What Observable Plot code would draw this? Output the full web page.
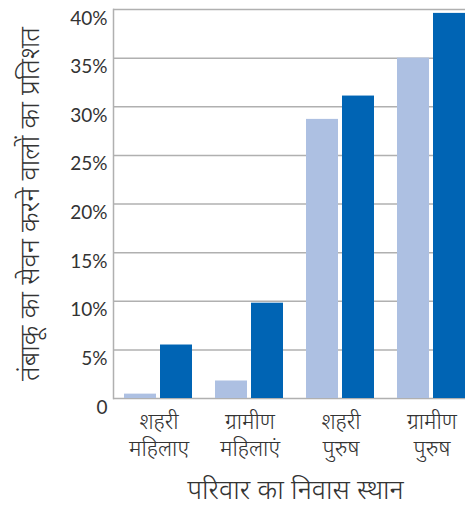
<!DOCTYPE html>
<html><head><meta charset="utf-8">
<script src="https://cdn.jsdelivr.net/npm/d3@7"></script>
<script src="https://cdn.jsdelivr.net/npm/@observablehq/plot@0.6"></script>
<style>
body{margin:0;background:#fff;}
#chart{width:465px;height:510px;overflow:hidden;position:relative;}
#chart svg{max-width:none !important;width:478px;height:510px;}
</style></head><body><div id="chart"></div>
<script>
const categories = ["शहरी महिलाए", "ग्रामीण महिलाएं", "शहरी पुरुष", "ग्रामीण पुरुष"];
const categoryLabels = ["शहरी\nमहिलाए", "ग्रामीण\nमहिलाएं", "शहरी\nपुरुष", "ग्रामीण\nपुरुष"];
const series = ["पहला", "दूसरा"];
const seriesColors = ["#adc0e2", "#0064b4"];
const valuesFirst = [0.45, 1.8, 28.7, 35.0];
const valuesSecond = [5.5, 9.8, 31.1, 39.6];
const yTicks = [0, 5, 10, 15, 20, 25, 30, 35, 40];
const yTitle = "तंबाकू का सेवन करने वालों का प्रतिशत";
const xTitle = "परिवार का निवास स्थान";

const data = categories.flatMap((c, i) => [
  {cat: c, s: series[0], v: valuesFirst[i]},
  {cat: c, s: series[1], v: valuesSecond[i]}
]);

const font = "Lato, 'Noto Sans', sans-serif";
const chart = Plot.plot({
  width: 478, height: 510,
  marginLeft: 112, marginRight: 0, marginTop: 9, marginBottom: 112,
  style: {fontFamily: font, color: "#333", background: "#fff"},
  fx: {domain: categories, padding: 0, label: null},
  x: {domain: series, paddingInner: 0.1, paddingOuter: 0.3, axis: null},
  y: {domain: [0, 40], axis: null},
  color: {domain: series, range: seriesColors},
  marks: [
    Plot.ruleY(yTicks, {stroke: "#b0b0b0", strokeWidth: 1.5}),
    Plot.frame({anchor: "left", stroke: "#b0b0b0", strokeWidth: 1.5, facetAnchor: "left"}),
    Plot.barY(data, {fx: "cat", x: "s", y: "v", fill: "s"}),
    Plot.axisY({ticks: yTicks, tickSize: 0, tickPadding: 6, dy: 9, fontSize: 19, label: null,
      tickFormat: d => d === 0 ? "0" : d + "%"}),
    Plot.axisY({ticks: [], tickSize: 0, fontSize: 27, fontWeight: 300, label: yTitle, labelAnchor: "center",
      labelOffset: 94, dy: 6, labelArrow: "none"}),
    Plot.axisFx({anchor: "bottom", tickSize: 0, tickPadding: 12, fontSize: 22, fontWeight: 300, lineHeight: 1.2,
      tickFormat: d => categoryLabels[categories.indexOf(d)], label: null}),
    Plot.axisFx({anchor: "bottom", ticks: [], tickSize: 0, fontSize: 27, fontWeight: 300, label: xTitle, labelAnchor: "center",
      labelOffset: 100, dx: -18, labelArrow: "none"})
  ]
});
document.getElementById("chart").appendChild(chart);
</script></body></html>
